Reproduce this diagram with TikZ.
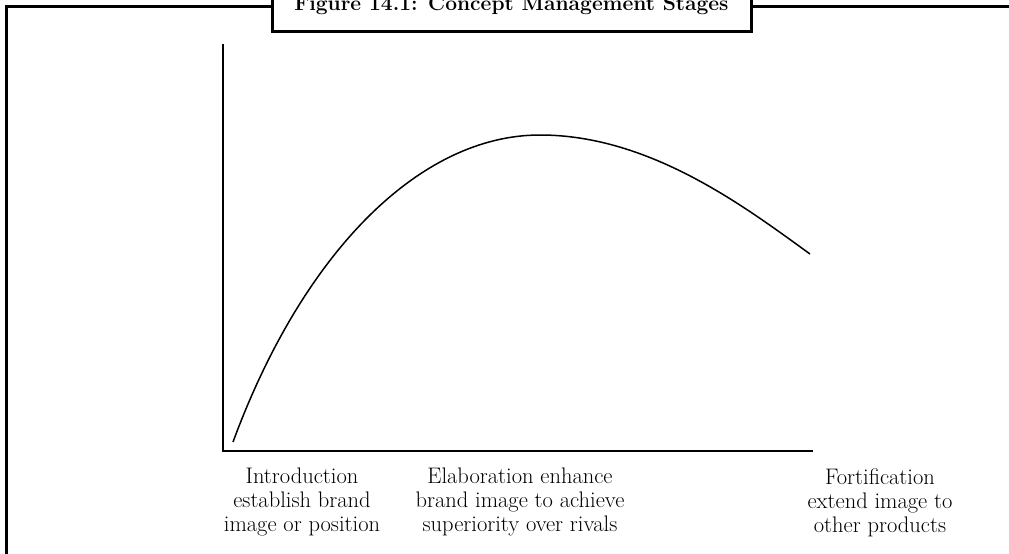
\documentclass[tikz,border=0pt]{standalone}
\usepackage{tikz}
\usepackage{amsmath}

\tikzset{
  stagelabel/.style={align=center, inner sep=0pt, anchor=north, font=\fontsize{22.5}{24}\selectfont},
  axisline/.style={line width=2.3pt},
}

\begin{document}
\begin{tikzpicture}[x=1pt, y=-1pt]
\useasboundingbox (0,0) rectangle (1009,554);
% outer frame:
\draw[line width=3pt] (6,580) -- (6,6) -- (1030,6);
% title box:
\draw[line width=3pt, fill=white] (272,-20) rectangle (751,31);
\node[anchor=base, font=\fontsize{21}{24}\selectfont\bfseries] (title) at (511.5,10) {Figure 14.1: Concept Management Stages};
% axes:
\coordinate (top) at (223,44);
\coordinate (origin) at (223,451);
\coordinate (xend) at (813,451);
\draw[axisline] (top) -- (origin) -- (xend);
% curve:
\coordinate (start) at (233,442);
\coordinate (peak) at (540,135);
\coordinate (stop) at (810,254);
\draw[line width=1.5pt] (start) .. controls (303,252) and (420,135) .. (peak)
  .. controls (650,135) and (745,207) .. (stop);
% stage labels:
\node[stagelabel] (intro) at (302,468) {Introduction\\establish brand\\image or position};
\node[stagelabel] (elab) at (520,468) {Elaboration enhance\\brand image to achieve\\superiority over rivals};
\node[stagelabel] (fort) at (880,468) {Fortification\\extend image to\\other products};
\end{tikzpicture}
\end{document}
